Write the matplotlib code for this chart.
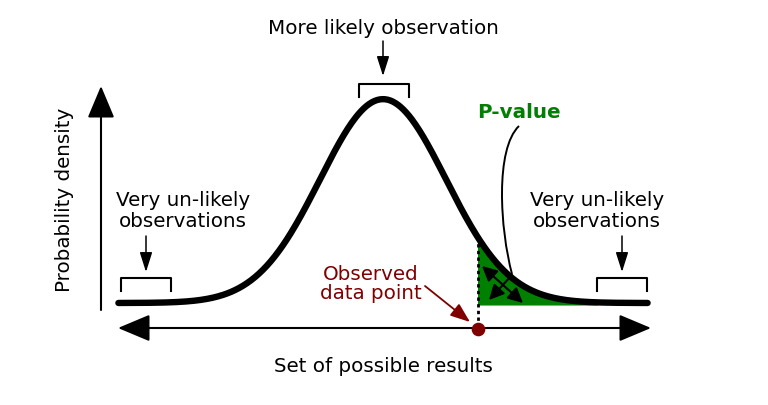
import numpy as np
import matplotlib
matplotlib.use("Agg")
import matplotlib.pyplot as plt
from matplotlib.path import Path
from matplotlib.patches import PathPatch
from matplotlib.transforms import Affine2D

# curve in standard units (mean 0, sd 1)
z_min, z_max = -4.2, 4.2
observed = 1.5      # observed data point, in sd units
tail_end = 3.4      # where the shaded tail stops being visible

title_top = "More likely observation"
label_x = "Set of possible results"
label_y = "Probability density"
label_tail = "Very un-likely\nobservations"
label_p = "P-value"
label_obs = "Observed\ndata point"

green = "#008000"
darkred = "#800000"

fig = plt.figure(figsize=(7.68, 4.06), dpi=100)
ax = fig.add_axes([0, 0, 1, 1])
ax.set_xlim(0, 768)
ax.set_ylim(406, 0)
ax.axis("off")

# map z / density into the pixel layout
curve_tr = Affine2D().scale(63, -511).translate(383, 304) + ax.transData

def pdf(z):
    return np.exp(-0.5 * z ** 2) / np.sqrt(2 * np.pi)

z = np.linspace(z_min, z_max, 400)
zt = np.linspace(observed, tail_end, 200)

# p-value area
ax.fill_between(zt, pdf(zt), -0.004, color=green, lw=0, transform=curve_tr, zorder=2)
ax.plot(z, pdf(z), color="k", lw=4.6, solid_capstyle="round", transform=curve_tr, zorder=4)

# dotted line down from the curve to the observed point
ax.plot([observed, observed], [pdf(observed), -0.047], color="k", lw=2,
        linestyle=(0, (1.2, 1.2)), transform=curve_tr, zorder=3)

fs = 14.3

def arrow(tail, head, style, ms, lw, color="k", z=5):
    ax.annotate("", xy=head, xytext=tail,
                arrowprops=dict(arrowstyle=style, mutation_scale=ms, lw=lw, color=color,
                                shrinkA=0, shrinkB=0), zorder=z)

# axes
arrow((118, 329), (651, 329), "<|-|>,head_length=1.0,head_width=0.42", 20, 1.5)
arrow((101, 311), (101, 87), "-|>,head_length=1.0,head_width=0.42", 20, 1.5)
ax.plot(observed, -0.05, "o", color=darkred, ms=8.8, transform=curve_tr, zorder=6)

ax.text(64, 200, label_y, rotation=90, ha="center", va="center", fontsize=fs)
ax.text(383, 367, label_x, ha="center", va="center", fontsize=fs)

# top bracket
ax.text(383, 28, title_top, ha="center", va="center", fontsize=fs)
arrow((383, 42), (383, 77), "-|>,head_length=1.2,head_width=0.38", 10, 1.1)
ax.plot([359, 359, 409, 409], [98, 85, 85, 98], color="k", lw=1.5)

# tail brackets
for cx, ax_x, b0 in [(183, 146, 121), (597, 622, 597)]:
    ax.text(cx, 211, label_tail, ha="center", va="center", fontsize=fs, linespacing=1.15)
    arrow((ax_x, 237), (ax_x, 273), "-|>,head_length=1.2,head_width=0.38", 10, 1.1)
    ax.plot([b0, b0, b0 + 50, b0 + 50], [292, 279, 279, 292], color="k", lw=1.5)

# p-value label and its curly pointer
ax.text(519, 112, label_p, ha="center", va="center", fontsize=fs, color=green, fontweight="bold")
verts = [(519, 127), (495, 150), (500, 230), (512, 275)]
codes = [Path.MOVETO, Path.CURVE4, Path.CURVE4, Path.CURVE4]
ax.add_patch(PathPatch(Path(verts, codes), fill=False, lw=1.4, color="k", zorder=5))
arrow((482, 267), (523, 304), "<|-|>,head_length=0.9,head_width=0.45", 10, 1.5)
arrow((512, 276), (489, 301), "-|>,head_length=0.9,head_width=0.45", 10, 1.5)

# observed data point label
ax.text(371, 284, label_obs, ha="center", va="center", fontsize=fs, color=darkred,
        linespacing=1.05)
arrow((425, 287), (470, 323), "-|>,head_length=1.0,head_width=0.38", 12, 1.3, color=darkred)

fig.savefig("out.png", dpi=100)
